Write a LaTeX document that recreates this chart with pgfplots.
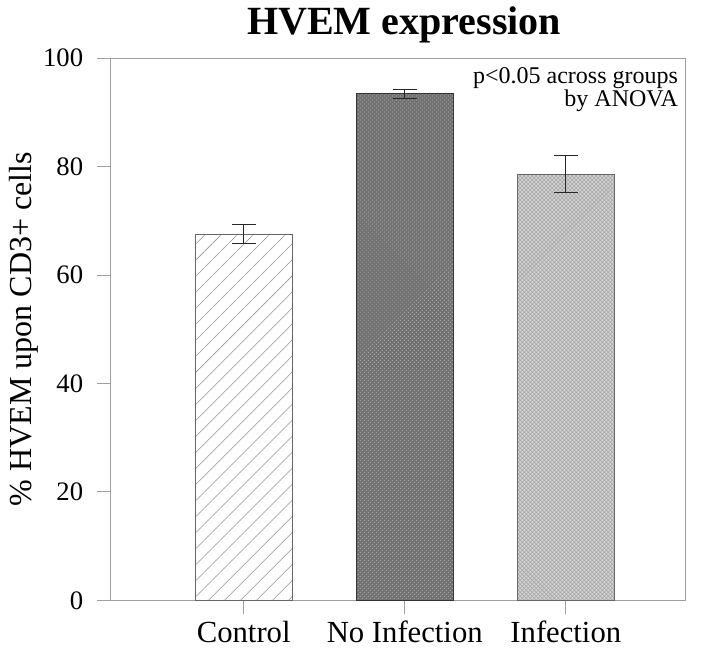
\documentclass[border=0pt]{standalone}
\usepackage{fontspec}
\setmainfont{Liberation Serif}
\usepackage{pgfplots}
\pgfplotsset{compat=1.18}
\usetikzlibrary{patterns,patterns.meta}

\pgfplotstableread{
x y err
0 67.5 1.75
}\ctrltab
\pgfplotstableread{
x y err
1 93.4 0.85
}\noinftab
\pgfplotstableread{
x y err
2 78.6 3.4
}\inftab

\begin{document}
\begin{tikzpicture}
\begin{axis}[
  scale only axis, width=431pt, height=406.5pt,
  xmin=-0.83, xmax=2.74, ymin=0, ymax=100,
  xtick={0,1,2}, xticklabels={Control,No Infection,Infection},
  ytick={0,20,...,100},
  tick align=outside, major tick length=10pt,
  xtick pos=left, ytick pos=left,
  axis line style={gray!75}, tick style={gray!75, line width=0.6pt},
  /pgf/number format/assume math mode=true,
  yticklabel style={font=\fontsize{20}{22}\selectfont, anchor=east, inner sep=0pt, xshift=-10pt},
  xticklabel style={font=\fontsize{23}{25}\selectfont, anchor=base, inner sep=0pt, yshift=-21.5pt},
  title={HVEM expression},
  title style={font=\bfseries\fontsize{30}{32}\selectfont, yshift=2pt, xshift=5pt},
  ylabel={\% HVEM upon CD3+ cells},
  ylabel style={font=\fontsize{24}{26}\selectfont, at={(rel axis cs:0,0.5)}, anchor=south, yshift=50pt},
  ybar, bar width=0.6, bar shift=0pt,
  clip=false,
]
\addplot[draw=gray!80!black, line width=0.6pt, fill=white,
  postaction={pattern={Lines[angle=45,distance=8.5pt,line width=0.4pt]}, pattern color=gray!85},
  error bars/.cd, y dir=both, y explicit,
  error bar style={gray!30!black, line width=0.6pt},
  error mark options={rotate=90, mark size=9pt, gray!30!black, line width=0.6pt}]
  table[x=x, y=y, y error=err] {\ctrltab};
\addplot[draw=gray!40!black, line width=0.6pt, fill={rgb,255:red,110;green,110;blue,110},
  postaction={pattern=crosshatch dots, pattern color=gray!55},
  error bars/.cd, y dir=both, y explicit,
  error bar style={gray!30!black, line width=0.6pt},
  error mark options={rotate=90, mark size=9pt, gray!30!black, line width=0.6pt}]
  table[x=x, y=y, y error=err] {\noinftab};
\addplot[draw=gray!80!black, line width=0.6pt, fill={rgb,255:red,210;green,210;blue,210},
  postaction={pattern=crosshatch, pattern color=gray!70},
  error bars/.cd, y dir=both, y explicit,
  error bar style={gray!30!black, line width=0.6pt},
  error mark options={rotate=90, mark size=9pt, gray!30!black, line width=0.6pt}]
  table[x=x, y=y, y error=err] {\inftab};
\node[anchor=north east, align=right, inner sep=5pt, yshift=-2pt,
  font=\fontsize{18}{17.5}\selectfont] at (rel axis cs:1,1)
  {p<0.05 across groups\\by ANOVA};
\end{axis}
\pgfresetboundingbox
\path ([xshift=-82.5pt,yshift=-36pt]current axis.south west) rectangle ([xshift=23.25pt,yshift=43.5pt]current axis.north east);
\end{tikzpicture}
\end{document}
